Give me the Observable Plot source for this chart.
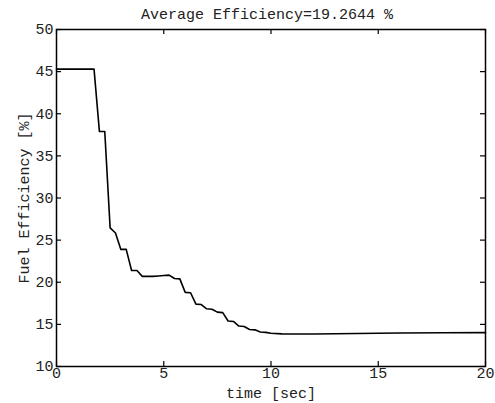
<!DOCTYPE html>
<html>
<head>
<meta charset="utf-8">
<script src="https://cdn.jsdelivr.net/npm/d3@7"></script>
<script src="https://cdn.jsdelivr.net/npm/@observablehq/plot@0.6"></script>
<style>
  html, body { margin: 0; padding: 0; background: #fff; }
  #chart svg, #chart svg text { font-family: "Liberation Mono", "DejaVu Sans Mono", monospace !important; }
</style>
</head>
<body>
<div id="chart"></div>
<script>
const titleText = "Average Efficiency=19.2644 %";
const xLabel = "time [sec]";
const yLabel = "Fuel Efficiency [%]";
const xTicks = [0, 5, 10, 15, 20];
const yTicks = [10, 15, 20, 25, 30, 35, 40, 45, 50];

const time = [0, 0.25, 0.5, 0.75, 1.0, 1.25, 1.5, 1.75, 2.0, 2.25, 2.5, 2.75, 3.0, 3.25, 3.5, 3.75, 4.0, 4.25, 4.5, 4.75, 5.0, 5.25, 5.5, 5.75, 6.0, 6.25, 6.5, 6.75, 7.0, 7.25, 7.5, 7.75, 8.0, 8.25, 8.5, 8.75, 9.0, 9.25, 9.5, 9.75, 10.0, 10.5, 11.0, 12.0, 14.0, 16.0, 18.0, 20.0];
const efficiency = [45.3, 45.3, 45.3, 45.3, 45.3, 45.3, 45.3, 45.3, 37.9, 37.9, 26.45, 25.85, 23.9, 23.9, 21.4, 21.4, 20.7, 20.7, 20.7, 20.75, 20.8, 20.85, 20.45, 20.4, 18.8, 18.75, 17.4, 17.35, 16.85, 16.8, 16.45, 16.4, 15.4, 15.35, 14.8, 14.75, 14.4, 14.35, 14.1, 14.05, 13.95, 13.87, 13.85, 13.85, 13.92, 13.97, 14.0, 14.02];

const data = time.map((t, i) => ({t, e: efficiency[i]}));

const W = 495, H = 403, mL = 56, mR = 10, mT = 29, mB = 37;
const frameW = W - mL - mR, frameH = H - mT - mB, tickLen = 5;

const chart = Plot.plot({
  width: W,
  height: H,
  marginLeft: mL,
  marginRight: mR,
  marginTop: mT,
  marginBottom: mB,
  style: {fontSize: "15px", color: "#222", background: "#fff"},
  x: {domain: [0, 20]},
  y: {domain: [10, 50]},
  marks: [
    Plot.axisX({anchor: "bottom", ticks: xTicks, tickSize: 0, tickPadding: 1, label: null, fontSize: 15}),
    Plot.axisY({anchor: "left", ticks: yTicks, tickSize: 0, tickPadding: 3, label: null, fontSize: 15}),
    Plot.tickX(xTicks, {x: d => d, stroke: "#000", strokeWidth: 1.2, insetTop: frameH - tickLen}),
    Plot.tickX(xTicks, {x: d => d, stroke: "#000", strokeWidth: 1.2, insetBottom: frameH - tickLen}),
    Plot.tickY(yTicks, {y: d => d, stroke: "#000", strokeWidth: 1.2, insetRight: frameW - tickLen}),
    Plot.tickY(yTicks, {y: d => d, stroke: "#000", strokeWidth: 1.2, insetLeft: frameW - tickLen}),
    Plot.line(data, {x: "t", y: "e", stroke: "#000", strokeWidth: 1.6}),
    Plot.frame({stroke: "#000", strokeWidth: 1.5}),
    Plot.text([titleText], {frameAnchor: "top", lineAnchor: "middle", textAnchor: "middle", dy: -15, dx: -4, fontSize: 15, fill: "#222"}),
    Plot.text([xLabel], {frameAnchor: "bottom", lineAnchor: "middle", textAnchor: "middle", dy: 27, fontSize: 15, fill: "#222"}),
    Plot.text([yLabel], {frameAnchor: "left", lineAnchor: "middle", textAnchor: "middle", rotate: -90, dx: -32, fontSize: 15, fill: "#222"})
  ]
});
document.getElementById("chart").appendChild(chart);
</script>
</body>
</html>
